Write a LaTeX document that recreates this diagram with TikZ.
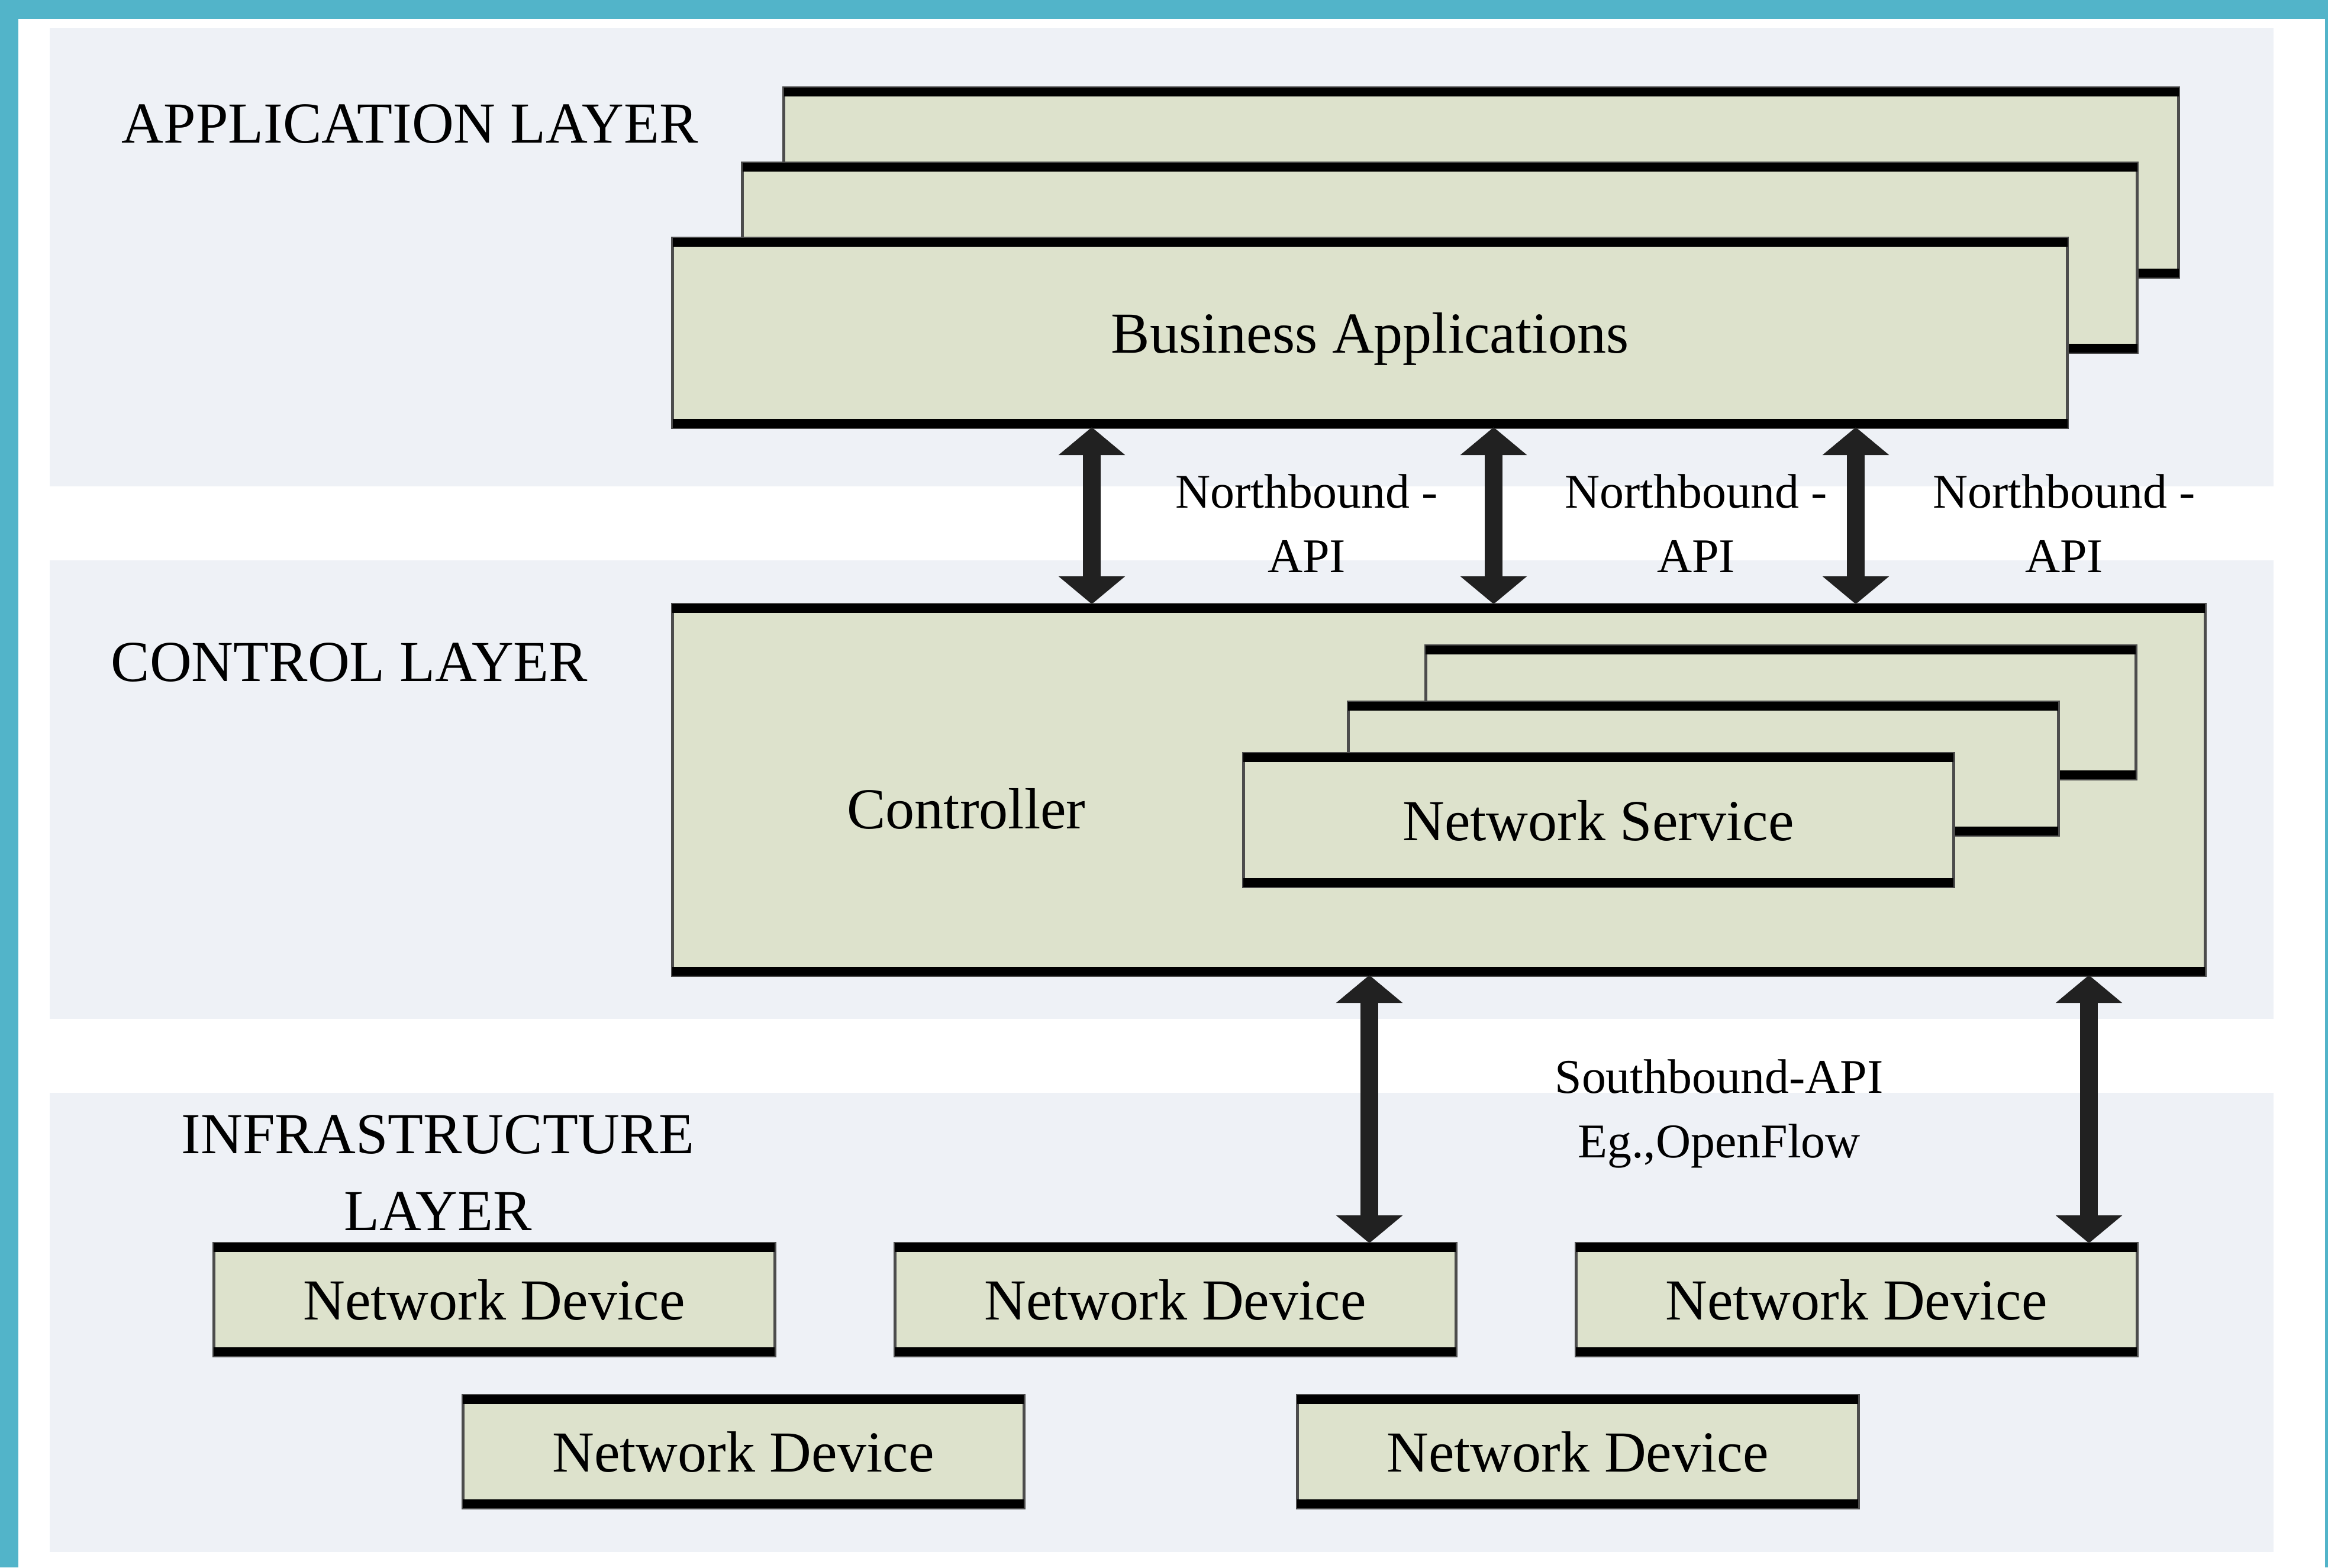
\documentclass[tikz,border=0pt]{standalone}
\usepackage{fontspec}
\setmainfont{Liberation Serif}
\usetikzlibrary{arrows.meta}

\definecolor{frame}{RGB}{82,180,201}
\definecolor{panel}{RGB}{238,241,246}
\definecolor{boxfill}{RGB}{221,226,204}
\newcommand{\layerfont}{\fontsize{27.9}{37}\selectfont}
\newcommand{\apifont}{\fontsize{23.3}{31}\selectfont}

\tikzset{
  layer/.style={fill=panel, draw=none},
  box/.style={draw=black!70, line width=0.05cm, fill=boxfill, inner sep=0pt, outer sep=0pt, text depth=0pt, font=\layerfont},
  rim/.style={draw=black, line width=0.15cm},
  api/.style={{Triangle[width=1.1cm,length=0.47cm]}-{Triangle[width=1.1cm,length=0.47cm]}, line width=0.3cm, draw=black!87},
  title/.style={font=\layerfont, inner sep=0pt},
  apilabel/.style={font=\apifont, align=center, inner sep=0pt}
}

\begin{document}
\begin{tikzpicture}
  \useasboundingbox (0,0) rectangle (39.34,-26.49);
  % Frame
  \fill[frame] (0,0) rectangle (39.34,-0.32);
  \fill[frame] (0,0) rectangle (0.31,-26.49);
  \fill[frame] (39.29,0) rectangle (39.34,-26.49);

  % Layer bands
  \fill[layer] (0.84,-0.47) rectangle (38.42,-8.22);
  \fill[layer] (0.84,-9.47) rectangle (38.42,-17.22);
  \fill[layer] (0.84,-18.47) rectangle (38.42,-26.23);

  \node[title, anchor=base west] (applayer) at (2.05,-2.41) {APPLICATION LAYER};
  \node[title, anchor=base west] (ctrllayer) at (1.87,-11.51) {CONTROL LAYER};
  \node[title, align=center] (infralayer) at (7.40,-19.82) {INFRASTRUCTURE\\LAYER};

  % Application layer: stacked boxes
  \foreach \nm/\cx/\cy/\txt in {ba3/25.03/-3.08/{}, ba2/24.33/-4.35/{}, ba/23.15/-5.62/Business Applications} {
    \node[box, minimum width=23.57cm, minimum height=3.2cm] (\nm) at (\cx,\cy) {\txt};
    \draw[rim] ([yshift=-0.07cm]\nm.north west) -- ([yshift=-0.07cm]\nm.north east)
               ([yshift=0.07cm]\nm.south west) -- ([yshift=0.07cm]\nm.south east);
  }

  % Control layer
  \node[box, minimum width=25.90cm, minimum height=6.27cm] (ctrl) at (24.31,-13.345) {};
  \draw[rim] ([yshift=-0.07cm]ctrl.north west) -- ([yshift=-0.07cm]ctrl.north east)
             ([yshift=0.07cm]ctrl.south west) -- ([yshift=0.07cm]ctrl.south east);
  \node[font=\layerfont, inner sep=0pt] (ctrltext) at (16.33,-13.67) {Controller};

  \foreach \nm/\cx/\cy/\txt in {ns3/30.09/-12.04/{}, ns2/28.78/-12.99/{}, ns/27.01/-13.86/Network Service} {
    \node[box, minimum width=12.0cm, minimum height=2.25cm] (\nm) at (\cx,\cy) {\txt};
    \draw[rim] ([yshift=-0.07cm]\nm.north west) -- ([yshift=-0.07cm]\nm.north east)
               ([yshift=0.07cm]\nm.south west) -- ([yshift=0.07cm]\nm.south east);
  }

  % Infrastructure layer
  \foreach \nm/\cx/\cy in {nd1/8.35/-21.96, nd2/19.86/-21.96, nd3/31.37/-21.96, nd4/12.56/-24.53, nd5/26.66/-24.53} {
    \node[box, minimum width=9.48cm, minimum height=1.9cm] (\nm) at (\cx,\cy) {Network Device};
    \draw[rim] ([yshift=-0.07cm]\nm.north west) -- ([yshift=-0.07cm]\nm.north east)
               ([yshift=0.07cm]\nm.south west) -- ([yshift=0.07cm]\nm.south east);
  }

  % Northbound
  \foreach \x in {18.45,25.24,31.36}
    \draw[api] (ba.south -| \x,0) -- (ctrl.north -| \x,0);
  \node[apilabel] (nb1) at (22.08,-8.85) {Northbound -\\API};
  \node[apilabel] (nb2) at (28.66,-8.85) {Northbound -\\API};
  \node[apilabel] (nb3) at (34.88,-8.85) {Northbound -\\API};

  % Southbound
  \draw[api] (ctrl.south -| 23.14,0) -- (nd2.north -| 23.14,0);
  \draw[api] (ctrl.south -| 35.30,0) -- (nd3.north -| 35.30,0);
  \node[apilabel] (sb) at (29.05,-18.82) {Southbound-API\\Eg.,OpenFlow};
\end{tikzpicture}
\end{document}
